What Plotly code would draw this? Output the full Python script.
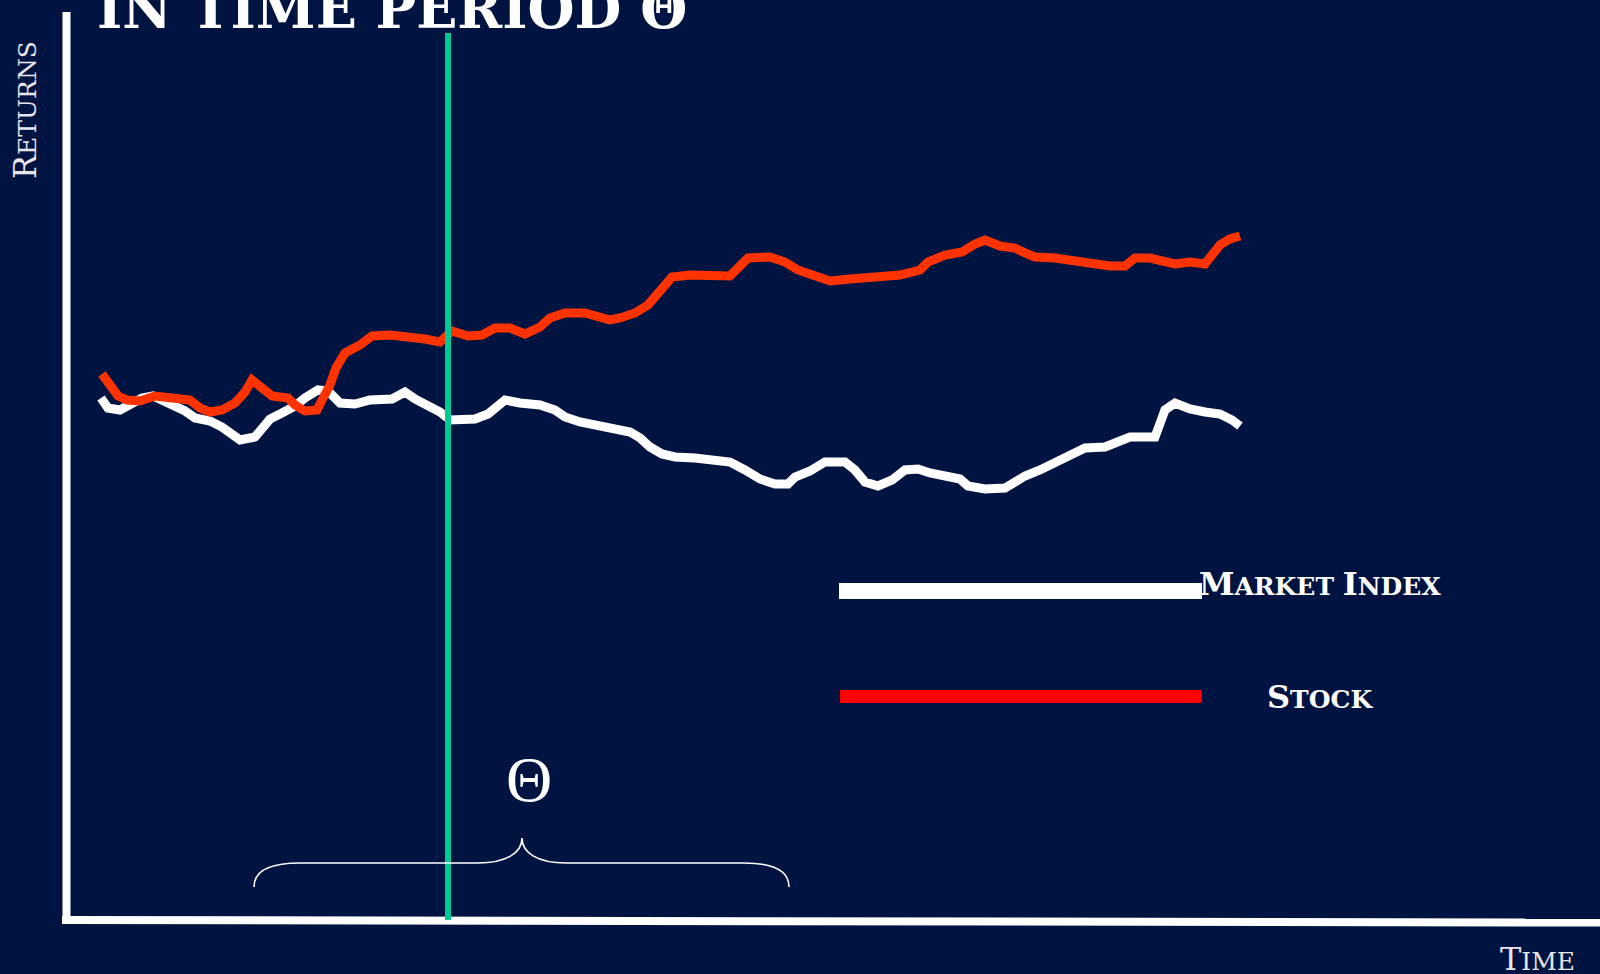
import plotly.graph_objects as go

W, H = 1600, 974
BG = "#011441"

# ---- data (time index, returns) ----
stock_t = [0.1, 0.9, 1.7, 2.6, 3.9, 5.4, 7.4, 8.9, 9.9, 10.9, 12.1, 13.4, 14.4, 15.1, 16.1, 17.1,
           18.7, 19.4, 20.4, 21.6, 22.1, 22.9, 23.5, 24.4, 25.9, 27.1, 28.9, 30.9, 32.4, 33.9, 35.1,
           36.7, 38.1, 39.4, 40.9, 42.4, 43.9, 44.9, 46.4, 48.4, 49.4, 50.9, 51.9, 53.4, 54.7, 55.9,
           57.1, 58.9, 61.4, 62.9, 63.7, 64.7, 66.9, 68.4, 69.7, 71.4, 72.9, 74.9, 76.9, 79.9, 81.9,
           82.7, 84.4, 86.1, 87.4, 88.4, 89.9, 91.4, 92.4, 93.4, 95.4, 97.4, 99.4, 100.9, 102.4,
           103.4, 104.9, 106.4, 107.4, 108.9, 110.4, 111.1, 111.9, 112.9, 113.9]
stock_r = [4.6, 3.3, 2.4, 2.0, 1.9, 2.4, 2.3, 2.0, 1.2, 0.8, 1.0, 1.7, 2.8, 4.0, 3.2, 2.4,
           2.2, 1.5, 0.9, 1.0, 2.0, 3.5, 5.2, 6.7, 7.5, 8.4, 8.5, 8.4, 8.1, 7.8, 8.9,
           8.4, 8.5, 9.2, 9.2, 8.6, 9.3, 10.2, 10.7, 10.7, 10.4, 10.0, 10.2, 10.7, 11.5, 13.0,
           14.3, 14.5, 14.3, 14.4, 15.2, 16.2, 16.3, 15.8, 15.0, 14.4, 13.9, 14.1, 14.3, 14.5, 15.0,
           15.8, 16.5, 16.8, 17.6, 18.0, 17.4, 17.2, 16.7, 16.3, 16.2, 15.9, 15.7, 15.4, 15.4,
           16.2, 16.2, 15.8, 15.6, 15.8, 15.6, 16.5, 17.5, 18.1, 18.4]

market_t = [0.0, 0.7, 1.9, 2.9, 4.1, 5.2, 6.2, 7.2, 8.4, 9.4, 10.9, 12.1, 12.9, 13.9, 15.4, 16.1,
            16.9, 18.1, 19.4, 20.4, 21.7, 22.7, 23.9, 25.4, 26.9, 29.1, 30.4, 31.4, 32.7, 33.9,
            34.9, 37.4, 38.7, 39.6, 40.4, 41.9, 43.9, 45.4, 46.4, 47.9, 49.9, 51.7, 52.9, 53.9,
            54.9, 56.1, 57.4, 59.4, 61.1, 62.9, 64.4, 65.9, 67.4, 68.7, 69.4, 70.9, 72.4, 74.4,
            75.4, 76.4, 77.7, 79.1, 80.4, 81.7, 82.9, 84.4, 85.9, 86.7, 88.4, 90.4, 91.4, 92.4,
            93.9, 95.4, 96.6, 98.4, 100.4, 101.4, 102.9, 105.4, 105.9, 106.4, 107.4, 108.9,
            110.4, 111.9, 113.1, 113.9]
market_r = [2.2, 1.2, 1.0, 1.5, 2.2, 2.4, 2.0, 1.5, 0.9, 0.2, -0.1, -0.7, -1.4, -2.0, -1.7, -0.8,
            0.1, 0.7, 1.4, 2.2, 3.0, 2.9, 1.7, 1.6, 2.0, 2.1, 2.8, 2.1, 1.5, 0.8,
            0.0, 0.1, 0.6, 1.5, 2.0, 1.7, 1.5, 1.0, 0.3, -0.2, -0.6, -0.8, -1.2, -1.8,
            -2.7, -3.4, -3.7, -3.8, -4.1, -4.2, -5.0, -5.9, -6.4, -6.4, -5.7, -5.1, -4.2, -4.2,
            -5.0, -6.2, -6.6, -6.0, -5.0, -4.9, -5.3, -5.6, -5.9, -6.6, -6.9, -6.8, -6.2, -5.6,
            -5.0, -4.3, -3.6, -2.8, -2.7, -2.2, -1.7, -1.7, -0.5, 1.0, 1.7, 1.1,
            0.8, 0.6, 0.0, -0.6]

theta_t = 34.7  # start of time period marker

series_names = ["Market Index", "Stock"]
title_text = "IN TIME PERIOD Θ"


def px(x):
    return x / W


def py(y):
    return 1 - y / H


fig = go.Figure()
fig.add_trace(go.Scatter(x=market_t, y=market_r, mode="lines", name=series_names[0],
                         line=dict(color="#FFFFFF", width=9), showlegend=False))
fig.add_trace(go.Scatter(x=stock_t, y=stock_r, mode="lines", name=series_names[1],
                         line=dict(color="#FF3300", width=9), showlegend=False))

shapes = []
# axes lines
shapes.append(dict(type="line", xref="paper", yref="paper", x0=px(66.5), x1=px(66.5),
                   y0=py(12), y1=py(920), line=dict(color="white", width=8)))
shapes.append(dict(type="line", xref="paper", yref="paper", x0=px(62), x1=px(1600),
                   y0=py(920), y1=py(922.5), line=dict(color="white", width=8)))
# period marker
shapes.append(dict(type="line", xref="x", yref="paper", x0=theta_t, x1=theta_t,
                   y0=py(33), y1=py(920), line=dict(color="#00C995", width=6)))
# brace
pts = "M {} {} C {} {}, {} {}, {} {} L {} {} C {} {}, {} {}, {} {} C {} {}, {} {}, {} {} L {} {} C {} {}, {} {}, {} {}"
coords = [(254, 887), (254, 870), (272, 863), (300, 863), (478, 863), (506, 863), (522, 853), (522, 838),
          (522, 853), (538, 863), (566, 863), (744, 863), (772, 863), (789, 870), (789, 887)]
flat = []
for (a, b) in coords:
    flat += [round(px(a), 5), round(py(b), 5)]
shapes.append(dict(type="path", xref="paper", yref="paper", path=pts.format(*flat),
                   line=dict(color="white", width=1.6)))
# legend swatches
shapes.append(dict(type="rect", xref="paper", yref="paper", x0=px(839), x1=px(1202),
                   y0=py(599), y1=py(583), fillcolor="#FFFFFF", line=dict(width=0)))
shapes.append(dict(type="rect", xref="paper", yref="paper", x0=px(840), x1=px(1202),
                   y0=py(703), y1=py(690), fillcolor="#FF0000", line=dict(width=0)))

SERIF = "DejaVu Serif"
ann = []
ann.append(dict(text="<b>" + title_text + "</b>", x=px(95), y=py(43), xanchor="left", yanchor="bottom",
                font=dict(family=SERIF, size=54, color="white")))
ann.append(dict(text="<span style='font-size:32px'>R</span>ETURNS", x=px(25), y=py(110),
                xanchor="center", yanchor="middle", textangle=-90,
                font=dict(family=SERIF, size=25, color="#E6E6EA")))
ann.append(dict(text="<span style='font-size:32px'>T</span>IME", x=px(1537), y=py(980),
                xanchor="center", yanchor="bottom",
                font=dict(family=SERIF, size=25, color="#E6E6EA")))
ann.append(dict(text="<b><span style='font-size:32px'>M</span>ARKET <span style='font-size:32px'>I</span>NDEX</b>",
                x=px(1320), y=py(604.5), xanchor="center", yanchor="bottom",
                font=dict(family=SERIF, size=25, color="white")))
ann.append(dict(text="<b><span style='font-size:32px'>S</span>TOCK</b>",
                x=px(1320), y=py(717.5), xanchor="center", yanchor="bottom",
                font=dict(family=SERIF, size=25, color="white")))
ann.append(dict(text="Θ", x=px(529), y=py(817), xanchor="center", yanchor="bottom",
                font=dict(family="Liberation Serif", size=64, color="white")))
for a in ann:
    a.update(xref="paper", yref="paper", showarrow=False)

fig.update_layout(
    width=W, height=H,
    margin=dict(l=0, r=0, t=0, b=0),
    paper_bgcolor=BG, plot_bgcolor=BG,
    xaxis=dict(range=[-10.1, 149.9], visible=False, domain=[0, 1], fixedrange=True),
    yaxis=dict(range=[-55.4, 42.0], visible=False, domain=[0, 1], fixedrange=True),
    shapes=shapes, annotations=ann, showlegend=False,
)

fig.write_html(
    "out.html",
    config={"displayModeBar": False},
    post_script="document.body.style.margin='0';document.body.style.padding='0';"
                "document.body.style.overflow='hidden';"
                "document.body.style.background='" + BG + "';",
)
